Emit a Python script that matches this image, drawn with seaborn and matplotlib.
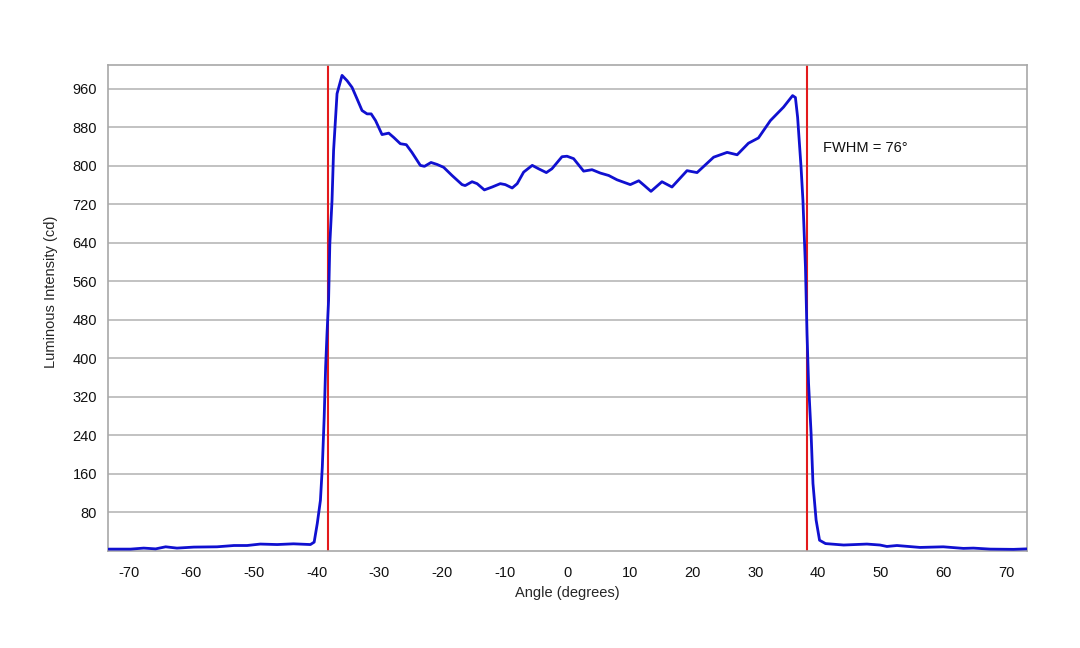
import seaborn as sns
import matplotlib.pyplot as plt
import pandas as pd

# Valores
angle = [-73.2, -69.7, -67.6, -65.7, -64.1, -62.3, -59.6, -55.9, -53.2, -51.1,
         -49.0, -46.3, -43.7, -41.0, -40.4, -39.9, -39.4, -39.1, -38.8, -38.57,
         -38.35, -38.1, -37.9, -37.55, -37.3, -36.75, -35.95, -35.15, -34.35, -33.55,
         -32.76, -31.96, -31.3, -30.6, -29.57, -28.5, -27.7, -26.65, -25.7, -24.8,
         -23.46, -22.8, -21.75, -20.8, -19.74, -18.4, -16.8, -16.3, -15.2, -14.4,
         -13.24, -12.0, -10.7, -9.9, -8.8, -8.0, -6.97, -5.6, -4.6, -3.35,
         -2.45, -0.85, -0.05, 1.0, 2.6, 3.94, 5.27, 6.6, 7.93, 10.05,
         11.4, 12.3, 13.35, 15.1, 16.7, 19.1, 20.7, 23.35, 25.5, 27.1,
         28.9, 30.5, 32.4, 34.5, 35.95, 36.4, 36.75, 37.3, 37.6, 38.0,
         38.25, 38.5, 38.9, 39.2, 39.7, 40.25, 41.2, 44.1, 47.8, 49.9,
         51.0, 52.6, 56.3, 60.0, 63.2, 64.8, 67.5, 71.2, 73.3]
intensity = [3.5, 3.5, 5.6, 4, 8.3, 5.6, 7.7, 8.3, 11, 11,
             14, 13, 14.5, 13, 18, 57, 105, 174, 278, 382,
             451, 520, 638, 728, 832, 950, 988, 977, 963, 939,
             915, 908, 908, 894, 865, 868, 859, 846, 844, 828,
             801, 799, 807, 803, 797, 780, 761, 759, 767, 763,
             750, 756, 763, 761, 754, 763, 787, 801, 794, 786,
             794, 819, 820, 815, 789, 792, 785, 780, 771, 761,
             769, 759, 747, 767, 756, 790, 786, 818, 828, 823,
             847, 858, 894, 922, 946, 942, 901, 797, 728, 590,
             451, 347, 244, 140, 64, 22, 15, 12, 14, 12,
             9, 11, 7, 8.3, 5, 5.6, 3.5, 3, 4]

fwhm_edges = [-38.2, 38.2]
y_ticks = list(range(80, 961, 80))
x_ticks = list(range(-70, 71, 10))

df = pd.DataFrame({"angle": angle, "intensity": intensity})

sns.set_style("white")
plt.rcParams['font.family'] = ['Liberation Sans', 'DejaVu Sans']
plt.rcParams['axes.unicode_minus'] = False
plt.rcParams['text.color'] = "#111111"
plt.rcParams['xtick.labelcolor'] = "#111111"
plt.rcParams['ytick.labelcolor'] = "#111111"

fig = plt.figure(figsize=(10.8, 6.48), dpi=100)
ax = fig.add_axes([0.1, 0.15, 0.8506, 0.75])

for xe in fwhm_edges:
    ax.axvline(xe, color="#e31a1c", linewidth=1.5, zorder=2)

sns.lineplot(data=df, x="angle", y="intensity", color="#1010d0", linewidth=2.0,
             sort=False, ax=ax, zorder=3)

ax.text(40.8, 838, "FWHM = 76°", fontsize=10.5, va="center", ha="left")

ax.set_xlim(-73.3, 73.3)
ax.set_ylim(0, 1010)
ax.set_xticks(x_ticks)
ax.set_yticks(y_ticks)
ax.yaxis.grid(True, color="#b8b8b8", linewidth=1.2)
ax.xaxis.grid(False)
for s in ax.spines.values():
    s.set_color("#a8a8a8")
    s.set_linewidth(1.2)
ax.tick_params(axis="x", direction="out", length=5, color="#a8a8a8", labelsize=10.5, pad=6)
ax.tick_params(axis="y", length=0, labelsize=10.5, pad=8)

ax.set_xlabel("Angle (degrees)", fontsize=10.5, labelpad=4)
ax.set_ylabel("Luminous Intensity (cd)", fontsize=10.5)
ax.yaxis.set_label_coords(-0.054, 0.532)

fig.savefig("out.png", dpi=100)
